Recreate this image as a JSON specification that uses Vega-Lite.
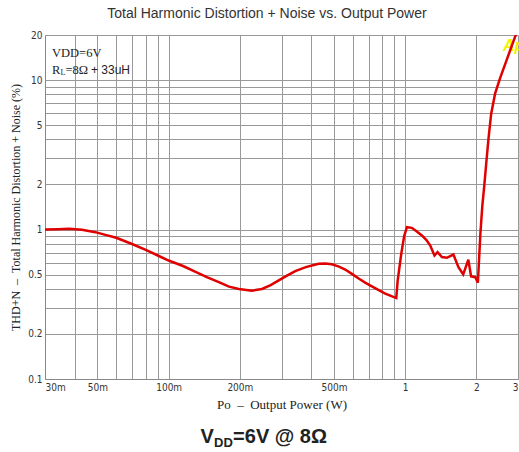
{
  "$schema": "https://vega.github.io/schema/vega-lite/v6.json",
  "autosize": {"type": "none"},
  "padding": {"left": 45, "top": 35, "right": 1, "bottom": 73},
  "width": 473,
  "height": 344,
  "background": "white",
  "title": {
    "text": "Total Harmonic Distortion + Noise vs. Output Power",
    "font": "Liberation Sans",
    "fontSize": 14,
    "fontWeight": "normal",
    "color": "#333333",
    "anchor": "middle",
    "frame": "bounds",
    "offset": 9
  },
  "config": {
    "view": {"stroke": null},
    "axis": {
      "grid": true,
      "gridColor": "#999999",
      "gridWidth": 1,
      "gridOpacity": 1,
      "domainColor": "#888888",
      "ticks": false,
      "labelFont": "Liberation Sans Narrow, DejaVu Sans Condensed, Arial, sans-serif",
      "labelFontSize": 10,
      "labelColor": "#333333",
      "titleFont": "Liberation Serif",
      "titleFontWeight": "normal",
      "titleColor": "#222222"
    }
  },
  "layer": [
    {
      "data": {"values": [{"P": 2.59, "THD": 17.0, "label": "Ap"}]},
      "mark": {"type": "text", "font": "Liberation Sans", "fontSize": 16, "fontWeight": "bold", "fontStyle": "italic", "color": "#f2f200", "align": "left", "baseline": "middle"},
      "encoding": {
        "x": {"field": "P", "type": "quantitative", "scale": {"type": "log", "domain": [0.03, 3], "nice": false}},
        "y": {"field": "THD", "type": "quantitative", "scale": {"type": "log", "domain": [0.1, 20], "nice": false}},
        "text": {"field": "label"}
      }
    },
    {
      "data": {
        "values": [
          {"P": 0.03, "THD": 1.0},
          {"P": 0.034, "THD": 1.005},
          {"P": 0.038, "THD": 1.01},
          {"P": 0.043, "THD": 0.995},
          {"P": 0.049, "THD": 0.96},
          {"P": 0.054, "THD": 0.92},
          {"P": 0.06, "THD": 0.88},
          {"P": 0.07, "THD": 0.8},
          {"P": 0.08, "THD": 0.73},
          {"P": 0.09, "THD": 0.67},
          {"P": 0.1, "THD": 0.62},
          {"P": 0.115, "THD": 0.57},
          {"P": 0.13, "THD": 0.52},
          {"P": 0.145, "THD": 0.48},
          {"P": 0.163, "THD": 0.445},
          {"P": 0.18, "THD": 0.415},
          {"P": 0.198, "THD": 0.4},
          {"P": 0.225, "THD": 0.39},
          {"P": 0.248, "THD": 0.4},
          {"P": 0.27, "THD": 0.425},
          {"P": 0.292, "THD": 0.457},
          {"P": 0.315, "THD": 0.49},
          {"P": 0.343, "THD": 0.527},
          {"P": 0.38, "THD": 0.56},
          {"P": 0.431, "THD": 0.59},
          {"P": 0.46, "THD": 0.592},
          {"P": 0.49, "THD": 0.585},
          {"P": 0.525, "THD": 0.565},
          {"P": 0.558, "THD": 0.54},
          {"P": 0.595, "THD": 0.505},
          {"P": 0.636, "THD": 0.47},
          {"P": 0.68, "THD": 0.44},
          {"P": 0.723, "THD": 0.417},
          {"P": 0.77, "THD": 0.395},
          {"P": 0.824, "THD": 0.373},
          {"P": 0.87, "THD": 0.36},
          {"P": 0.917, "THD": 0.348},
          {"P": 0.93, "THD": 0.457},
          {"P": 0.963, "THD": 0.69},
          {"P": 0.99, "THD": 0.9},
          {"P": 1.017, "THD": 1.036},
          {"P": 1.067, "THD": 1.026},
          {"P": 1.12, "THD": 0.97},
          {"P": 1.177, "THD": 0.912},
          {"P": 1.23, "THD": 0.85},
          {"P": 1.277, "THD": 0.78},
          {"P": 1.33, "THD": 0.67},
          {"P": 1.37, "THD": 0.706},
          {"P": 1.43, "THD": 0.654},
          {"P": 1.5, "THD": 0.647},
          {"P": 1.6, "THD": 0.68},
          {"P": 1.68, "THD": 0.56},
          {"P": 1.76, "THD": 0.5},
          {"P": 1.85, "THD": 0.628},
          {"P": 1.9, "THD": 0.486},
          {"P": 1.98, "THD": 0.48},
          {"P": 2.03, "THD": 0.44},
          {"P": 2.08, "THD": 0.936},
          {"P": 2.12, "THD": 1.445},
          {"P": 2.16, "THD": 1.96},
          {"P": 2.21, "THD": 2.96},
          {"P": 2.25, "THD": 4.02},
          {"P": 2.31, "THD": 5.93},
          {"P": 2.4, "THD": 8.1},
          {"P": 2.52, "THD": 10.3},
          {"P": 2.69, "THD": 13.7},
          {"P": 2.92, "THD": 19.6},
          {"P": 2.95, "THD": 20}
        ]
      },
      "mark": {"type": "line", "color": "#e00000", "strokeWidth": 2.5, "clip": true},
      "encoding": {
        "x": {
          "field": "P",
          "type": "quantitative",
          "scale": {"type": "log", "domain": [0.03, 3], "nice": false},
          "axis": {
            "title": "Po\u00a0\u00a0\u2013\u00a0\u00a0Output Power (W)",
            "titleFontSize": 13,
            "titlePadding": 6,
            "labelPadding": 3,
            "labelFlush": true,
            "values": [0.03, 0.04, 0.05, 0.06, 0.07, 0.08, 0.09, 0.1, 0.2, 0.3, 0.4, 0.5, 0.6, 0.7, 0.8, 0.9, 1, 2, 3],
            "labelExpr": "indexof([0.03, 0.05, 0.1, 0.2, 0.5, 1, 2, 3], datum.value) >= 0 ? (datum.value < 1 ? format(round(datum.value * 1000), 'd') + 'm' : format(datum.value, 'd')) : ''"
          }
        },
        "y": {
          "field": "THD",
          "type": "quantitative",
          "scale": {"type": "log", "domain": [0.1, 20], "nice": false},
          "axis": {
            "title": "THD+N\u00a0\u00a0\u2013\u00a0\u00a0Total Harmonic Distortion + Noise (%)",
            "titleFontSize": 12,
            "titlePadding": 5,
            "labelPadding": 3,
            "values": [0.1, 0.2, 0.3, 0.4, 0.5, 0.6, 0.7, 0.8, 0.9, 1, 2, 3, 4, 5, 6, 7, 8, 9, 10, 20],
            "labelExpr": "indexof([0.1, 0.2, 0.5, 1, 2, 5, 10, 20], datum.value) >= 0 ? '' + datum.value : ''"
          }
        }
      }
    },
    {
      "data": {"values": [
        {"P": 0.0315, "THD": 15.2, "label": "VDD=6V", "part": "a"},
        {"P": 0.0315, "THD": 11.7, "label": "R", "part": "b"}
      ]},
      "mark": {"type": "text", "font": "Liberation Serif", "fontSize": 12.5, "color": "#222222", "align": "left", "baseline": "middle", "dx": 2},
      "encoding": {
        "x": {"field": "P", "type": "quantitative"},
        "y": {"field": "THD", "type": "quantitative"},
        "text": {"field": "label"}
      }
    },
    {
      "data": {"values": [{"P": 0.0315, "THD": 11.7, "label": "L"}]},
      "mark": {"type": "text", "font": "Liberation Serif", "fontSize": 8, "color": "#222222", "align": "left", "baseline": "middle", "dx": 10.5, "dy": 3},
      "encoding": {
        "x": {"field": "P", "type": "quantitative"},
        "y": {"field": "THD", "type": "quantitative"},
        "text": {"field": "label"}
      }
    },
    {
      "data": {"values": [{"P": 0.0315, "THD": 11.7, "label": "=8\u03a9"}]},
      "mark": {"type": "text", "font": "Liberation Serif", "fontSize": 12.5, "color": "#222222", "align": "left", "baseline": "middle", "dx": 15.5},
      "encoding": {
        "x": {"field": "P", "type": "quantitative"},
        "y": {"field": "THD", "type": "quantitative"},
        "text": {"field": "label"}
      }
    },
    {
      "data": {"values": [{"P": 0.0315, "THD": 11.7, "label": "+ 33uH"}]},
      "mark": {"type": "text", "font": "Liberation Sans", "fontSize": 12, "color": "#222222", "align": "left", "baseline": "middle", "dx": 41},
      "encoding": {
        "x": {"field": "P", "type": "quantitative"},
        "y": {"field": "THD", "type": "quantitative"},
        "text": {"field": "label"}
      }
    },
    {
      "data": {"values": [{"P": 0.252, "THD": 0.0374, "label": "V"}]},
      "mark": {"type": "text", "font": "Liberation Sans", "fontSize": 20, "fontWeight": "bold", "color": "#222222", "align": "left", "baseline": "alphabetic", "dx": -63, "clip": false},
      "encoding": {
        "x": {"field": "P", "type": "quantitative"},
        "y": {"field": "THD", "type": "quantitative"},
        "text": {"field": "label"}
      }
    },
    {
      "data": {"values": [{"P": 0.252, "THD": 0.0374, "label": "DD"}]},
      "mark": {"type": "text", "font": "Liberation Sans", "fontSize": 13, "fontWeight": "bold", "color": "#222222", "align": "left", "baseline": "alphabetic", "dx": -49.5, "dy": 4, "clip": false},
      "encoding": {
        "x": {"field": "P", "type": "quantitative"},
        "y": {"field": "THD", "type": "quantitative"},
        "text": {"field": "label"}
      }
    },
    {
      "data": {"values": [{"P": 0.252, "THD": 0.0374, "label": "=6V @ 8\u03a9"}]},
      "mark": {"type": "text", "font": "Liberation Sans", "fontSize": 20, "fontWeight": "bold", "color": "#222222", "align": "left", "baseline": "alphabetic", "dx": -30.5, "clip": false},
      "encoding": {
        "x": {"field": "P", "type": "quantitative"},
        "y": {"field": "THD", "type": "quantitative"},
        "text": {"field": "label"}
      }
    }
  ]
}
